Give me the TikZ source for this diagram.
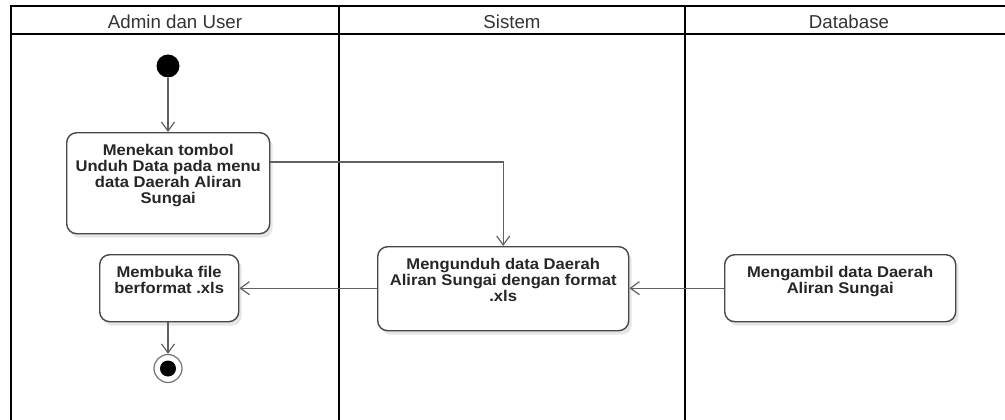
\documentclass[tikz,border=0pt]{standalone}
\usepackage{fontspec}
\setmainfont{Liberation Sans}
\newfontfamily\actfont[FakeStretch=1.07]{Liberation Sans}
\usetikzlibrary{arrows.meta,shadows}

% text block of an action: fixed size, text set from the top
\newcommand\acttext[3]{\parbox[c][#2][t]{#1}{\centering\actfont\bfseries
  \fontsize{15.5}{16}\selectfont\vspace*{11.6pt}#3\par}}

\tikzset{
  lane/.style={line width=2.5pt, draw=black, line cap=rect},
  lanetitle/.style={font=\fontsize{18.7}{20}\selectfont, text=black!80, anchor=base},
  act/.style={draw=black!72, line width=1.4pt, rounded corners=10pt, fill=white,
    inner sep=0pt, text=black!85, anchor=north west,
    drop shadow={shadow xshift=3pt, shadow yshift=-4pt, fill=black!12, opacity=0.8}},
  flow/.style={draw=black!62, line width=1.4pt,
    -{Straight Barb[length=9pt,width=13pt,line width=1.2pt]}},
  startnode/.style={circle, fill=black, minimum size=23pt, inner sep=0pt},
  endnode/.style={circle, draw=black!55, line width=1.2pt, fill=white,
    minimum size=28pt, inner sep=0pt,
    path picture={\fill[black] (path picture bounding box.center) circle (8pt);}}
}

\begin{document}
\begin{tikzpicture}[x=1pt,y=-1pt]
\useasboundingbox (0,0) rectangle (1005,420);
\clip (0,0) rectangle (1005,420);

% swimlane frame
\draw[lane] (11,430) -- (11,6) -- (1020,6);
\draw[lane] (11,34) -- (1020,34);
\draw[lane] (339,6) -- (339,430);
\draw[lane] (685,6) -- (685,430);

\node[lanetitle] (t1) at (175,28.3) {Admin dan User};
\node[lanetitle] (t2) at (512,28.3) {Sistem};
\node[lanetitle] (t3) at (849,28.3) {Database};

% activities
\node[startnode] (start) at (168,66) {};
\node[act] (a1) at (66,132) {\acttext{203pt}{101pt}{Menekan tombol\\Unduh Data pada menu\\data Daerah Aliran\\Sungai}};
\node[act] (a3) at (377,246) {\acttext{251pt}{84pt}{Mengunduh data Daerah\\Aliran Sungai dengan format\\.xls}};
\node[act] (a4) at (724,254) {\acttext{231pt}{67pt}{Mengambil data Daerah\\Aliran Sungai}};
\node[act] (a2) at (99,254) {\acttext{139pt}{67pt}{Membuka file\\berformat .xls}};
\node[endnode] (end) at (168,368.5) {};

% control flow
\draw[flow] (start.south) -- (start.south |- a1.north);
\draw[flow] ([yshift=-30pt]a1.north east) -| (a3.north);
\draw[flow] (a4.west) -- (a3.east |- a4.west);
\draw[flow] (a3.west |- a2.east) -- (a2.east);
\draw[flow] (a2.south -| end) -- (end.north);
\end{tikzpicture}
\end{document}
